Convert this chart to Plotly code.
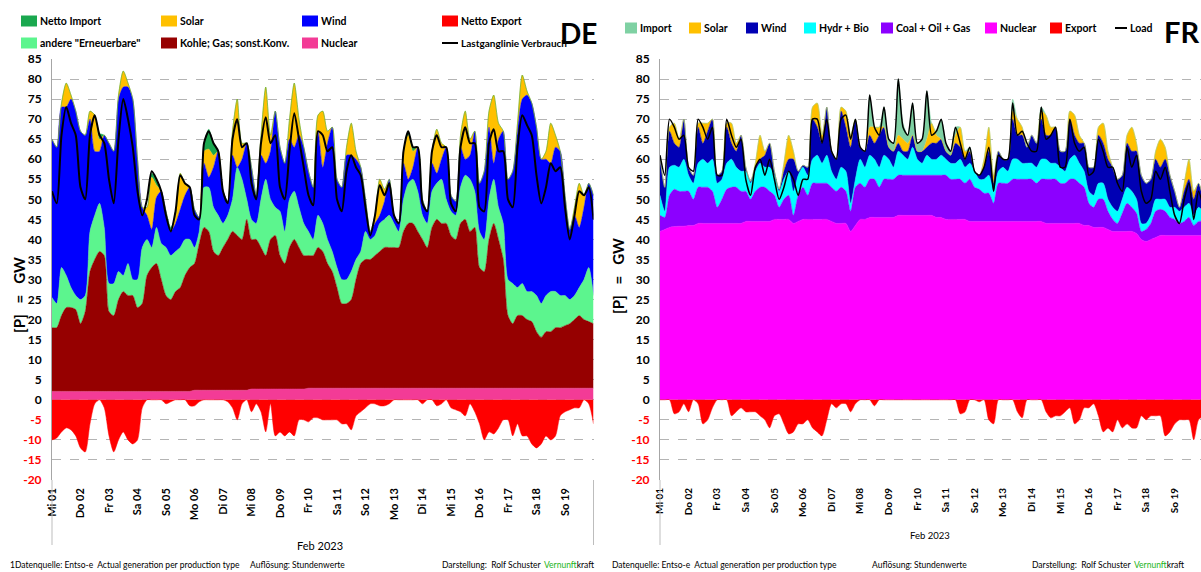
import plotly.graph_objects as go
import pandas as pd

FONT = "Lato, Liberation Sans, Arial, sans-serif"

# ---------------- axis categories ----------------
day_labels = ["Mi 01", "Do 02", "Fr 03", "Sa 04", "So 05", "Mo 06", "Di 07", "Mi 08", "Do 09", "Fr 10",
              "Sa 11", "So 12", "Mo 13", "Di 14", "Mi 15", "Do 16", "Fr 17", "Sa 18", "So 19"]
y_ticks = list(range(-20, 90, 5))
times = pd.date_range("2023-02-01 00:00", "2023-02-20 00:00", freq="4h")   # 4-hourly readings
days = pd.date_range("2023-02-01", periods=19, freq="D")

# ---------------- DE (GW), per day: 00h 04h 08h 12h 16h 20h ----------------
de_nuclear = [2.1] * 30 + [2.4] * 12 + [2.7] * 12 + [2.9] * 60 + [2.9]
de_kohle = [
    15.9, 15.9, 18.9, 20.9, 20.9, 20.4,
    16.9, 19.9, 29.9, 32.9, 34.9, 33.9,
    19.9, 18.9, 22.9, 24.9, 23.9, 23.9,
    20.9, 21.9, 28.9, 30.9, 31.9, 27.9,
    23.9, 22.9, 24.9, 25.9, 28.9, 30.9,
    31.6, 36.6, 40.6, 39.6, 34.6, 33.6,
    35.6, 37.6, 39.6, 38.6, 37.6, 42.6,
    37.3, 37.3, 35.3, 33.3, 37.3, 38.3,
    33.3, 31.3, 35.3, 37.3, 35.3, 33.3,
    33.1, 33.1, 35.1, 34.1, 31.1, 29.1,
    25.1, 21.1, 21.1, 22.1, 27.1, 31.1,
    32.1, 32.1, 33.1, 34.1, 35.1, 35.1,
    35.1, 35.1, 39.1, 41.1, 41.1, 39.1,
    37.1, 35.1, 40.1, 42.1, 41.1, 41.1,
    38.1, 37.1, 41.1, 42.1, 39.1, 40.1,
    30.1, 29.1, 37.1, 41.1, 37.1, 32.1,
    18.1, 16.1, 18.1, 18.1, 17.1, 16.6,
    14.1, 12.7, 14.1, 14.1, 15.1, 15.1,
    15.6, 16.1, 17.1, 18.1, 17.1, 16.6,
    16.1]
de_andere = [
    7.5, 6, 12, 8, 5, 3.5,
    6, 4, 10, 11, 12, 7,
    7, 8, 7, 4, 8, 4,
    7, 14, 9, 5, 9, 9,
    12, 11, 10, 10, 9, 7,
    4, 3, 10, 11, 11, 10,
    6, 6, 8, 17, 15, 5,
    5, 4, 12, 19, 10, 7,
    11, 8, 12, 12, 10, 8,
    6, 4, 8, 7, 6, 5,
    5, 6, 6, 7, 5, 3,
    7, 5, 5, 7, 7, 8,
    6, 4, 8, 10, 11, 10,
    6, 6, 9, 9, 11, 6,
    6, 6, 9, 11, 13, 9,
    9, 8, 10, 11, 8, 9,
    9, 10, 7, 8, 7, 7.5,
    9, 8.4, 9, 10, 9, 8,
    7.5, 6, 6, 7, 10, 13.5,
    7]
de_wind = [
    39.5, 39, 40, 42, 47, 46,
    42, 40, 28, 16, 13, 23,
    35, 33, 43, 47, 44, 45,
    30, 10, 6, 4.5, 7.5, 13,
    9, 6, 7, 9.5, 11, 13,
    9.5, 3.5, 6, 2.5, 10, 16,
    8, 3.5, 11, 0, 5, 14,
    13, 7, 11, 4, 12, 24,
    16, 17, 15, 11, 18, 19,
    15, 13, 21, 14, 24, 31,
    22, 23, 31, 29, 25, 21,
    8, 2, 3, 2, 4.5, 9,
    2, 2, 9, 1, 3, 11,
    4, 3, 7, 2.5, 5, 13,
    4, 3.5, 10, 4, 6, 15,
    12, 17, 18, 4, 17, 23,
    25, 28, 39, 46, 49, 47,
    42, 36, 34, 32, 36, 36,
    25, 17.5, 20, 15, 18, 21,
    25]
de_solar = [
    0, 0, 1, 6, 1, 0,
    0, 0, 2, 9, 3, 0,
    0, 0, 1, 4, 1, 0,
    0, 0, 2, 13, 3, 0,
    0, 0, 2, 9, 3, 0,
    0, 0, 3, 7, 3, 0,
    0, 0, 6, 17, 4, 0,
    0, 0, 5, 19, 4, 0,
    0, 0, 5, 16, 4, 0,
    0, 0, 4, 14, 3, 0,
    0, 0, 2, 8, 2, 0,
    0, 0, 2, 9, 3, 0,
    0, 0, 3, 11, 4, 0,
    0, 0, 3, 11, 4, 0,
    0, 0, 3, 12, 4, 0,
    0, 0, 4, 17, 4, 0,
    0, 0, 2, 6, 1, 0,
    0, 0, 2, 10, 3, 0,
    0, 0, 2, 11, 3, 0,
    0]
de_import = [
    0, 0, 0, 0, 0, 0,
    0, 0, 0, 0, 1.5, 0,
    0, 0, 0, 0, 0, 0,
    0, 0, 0, 1, 1.5, 0,
    0, 1, 0, 0, 0, 0,
    0, 0, 2, 5, 3, 0,
    0, 0, 0, 0, 0, 0,
    0, 0, 0, 0, 0, 0,
    0, 0, 0, 0, 0, 0,
    0, 0, 0, 0, 0, 0,
    0, 0, 0, 0, 0, 0,
    0, 0, 0, 0, 0, 0,
    0, 0, 0, 1, 1, 0,
    0, 0, 0, 0, 0, 0,
    0, 0, 0, 0, 0, 0,
    0, 0, 0, 0, 0, 0,
    0, 0, 0, 0, 0, 0,
    0, 0, 0, 0, 0, 0,
    0, 0, 0, 0, 0, 0,
    0]
de_export = [
    -10, -9.5, -8, -7, -7.5, -9,
    -12, -13, -6, -1, 0, -2,
    -9, -13, -10, -8, -10, -11,
    -10, -2, 0, 0, 0, 0,
    -1, -0.5, 0, 0, 0, -1.5,
    -1.5, -0.5, 0, 0, 0, 0,
    0, -0.5, -2, -5, -1, 0,
    -3, -1, -3, -8, -1, -9,
    -8, -9, -8, -9, -5, -5,
    -5.5, -4.5, -4.5, -5, -5, -5,
    -5, -6, -6, -7.5, -4, -3,
    -2, -1, -1, -1.5, -1.5, -1,
    0, 0, 0, 0, 0, 0,
    -1, 0, 0, -1.5, -1, 0,
    -2, -2.5, -3, -4, -1, -3,
    -6, -10, -8, -8.5, -7, -5,
    -5, -9, -6, -9, -9, -11,
    -12, -11, -9, -10, -9, -4,
    -3, -2.5, -2, -2, 0, -1,
    -6]
de_load = [
    52, 49, 66, 73, 69, 66,
    53, 50, 66, 71, 66, 64,
    55, 49, 65, 75, 70, 63,
    52, 46, 50, 57, 55, 52,
    46, 42, 47, 56, 54, 53,
    46, 45, 64, 67, 64, 62,
    52, 49, 65, 70, 63, 64,
    54, 50, 64, 70.5, 64, 66,
    53, 50, 62, 71.5, 65, 58,
    51, 48.5, 67, 66, 62, 63,
    50, 47, 57, 61, 58, 56,
    48, 41, 46, 53.5, 51, 54,
    46, 44, 62, 67, 63, 63,
    49, 47, 62, 66, 63, 63,
    49, 47, 63, 68, 64, 64,
    48, 47, 64, 67.5, 62, 62,
    50, 48, 63, 71, 68.5, 66,
    56, 49, 53, 59, 57, 58,
    48, 40, 46, 52, 51, 53,
    45]

# ---------------- FR (GW), per day: 00h 04h 08h 12h 16h 20h ----------------
fr_nuclear = [
    42, 42.5, 43, 43.2, 43.3, 43.3,
    43.5, 43.5, 44, 44, 44, 44,
    44, 44, 44, 44, 44, 44,
    44.5, 44.5, 44.5, 44.5, 44.5, 44.5,
    45, 45, 45, 45, 44, 44.5,
    45, 45, 45, 45, 45, 45,
    44.5, 44, 44, 44, 42, 43.5,
    45, 45, 45.5, 45.5, 45.5, 45.5,
    45.5, 45.5, 46, 46, 46, 46,
    46, 46, 46, 46, 45.5, 45.5,
    45, 45, 45, 45, 45, 44.5,
    44.5, 44.5, 44.5, 44.5, 44.5, 44.5,
    44.5, 44.5, 44.5, 44.5, 44.5, 44.5,
    44.5, 44.5, 44.5, 44, 44, 44,
    44, 44, 44, 44, 44, 43.5,
    43.5, 43, 43, 43, 42.5, 42,
    42, 42, 42, 42, 41.5, 40,
    39.5, 40, 40.5, 41, 41, 41,
    41, 41, 41, 41, 41, 41,
    41]
fr_coal = [
    4, 3, 8, 9.3, 8.7, 8.7,
    8.5, 6.5, 9, 9, 9, 8,
    4, 6, 8.5, 9, 9, 8,
    7.5, 5.5, 7.5, 8.5, 8.5, 7.5,
    6, 3, 5, 6, 2, 6.5,
    8, 6, 9, 9, 9, 9,
    8.5, 8, 9, 8, 5, 9.5,
    9, 8, 9.5, 9.5, 7.5, 9.5,
    9.5, 9.5, 10, 10, 10, 10,
    10, 10, 10, 10, 10.5, 10.5,
    11, 10, 10, 10, 9, 10.5,
    8.5, 8, 7, 7, 4.5, 9.5,
    9.5, 9.5, 10.5, 10.5, 10.5, 10.5,
    10.5, 9.5, 10.5, 11, 11, 11,
    10, 10, 11, 11, 10, 9.5,
    5.5, 5, 7, 7, 4.5, 3,
    2, 4.5, 7, 6, 5, 2,
    3, 4, 6.5, 6.5, 6, 4.5,
    4, 3, 3.5, 4.5, 2.5, 3.5,
    3.5]
fr_hydro = [
    5, 1.5, 7, 6, 6, 8,
    4, 4, 6, 7, 6, 8,
    6, 5, 6.5, 7, 5, 5,
    5, 4, 5, 6, 5, 6,
    5, 4, 5, 6, 6, 5,
    5, 5, 6, 7, 5, 7,
    4, 3, 5, 5, 2, 2,
    6, 5, 6, 5, 5, 6,
    5, 3, 6, 5, 4, 7,
    4, 3, 5, 4, 4, 5,
    4, 4, 4, 5, 4, 4,
    4, 2.5, 3.5, 4.5, 3, 3,
    4, 3, 5, 5, 4, 4,
    4, 4, 5, 5, 4, 4,
    4, 3, 5, 6, 5, 4,
    3, 3, 4, 4, 3, 3,
    3, 3.5, 4, 4, 3.5, 2,
    1.5, 2, 3, 2.5, 3, 2.5,
    3, 3, 3.5, 3.5, 2.5, 3.5,
    2.5]
fr_wind = [
    9.5, 6, 9, 5.5, 5, 10,
    2, 2, 9, 4, 8, 10,
    2, 2, 9, 4, 4, 9,
    1, 0.5, 1, 1, 3, 6,
    1, 0.5, 2, 3, 8, 1,
    0.5, 2, 10, 7, 5, 12,
    5, 5, 14, 11, 14, 15,
    3, 4, 5, 4, 8, 7,
    3, 4, 2, 1, 2, 3,
    2, 3, 2, 4, 4, 4,
    2, 2, 5, 3, 2, 3,
    0, 1, 3, 6, 2, 5,
    2, 3, 10, 6, 7, 4,
    7, 6, 10, 6, 7, 9,
    4, 5, 10, 5, 5, 7,
    6, 7, 12, 10, 10, 10,
    8, 6, 11, 10, 12, 12,
    10, 9, 10, 8, 10, 8,
    4, 1, 4, 6, 4, 6,
    3]
fr_solar = [
    0, 0, 1, 5, 2, 0,
    0, 0, 1, 5, 2, 0,
    0, 0, 1, 5, 2, 0,
    0, 0, 1, 6, 1, 0,
    0, 0, 2, 6, 2, 0,
    0, 0, 3, 6, 2, 0,
    0, 0, 1, 4, 3, 0,
    0, 0, 2, 4, 2, 0,
    0, 0, 2, 3, 2, 0,
    0, 0, 2, 5, 2, 0,
    0, 0, 2, 5, 2, 0,
    0, 0, 2, 6, 2, 0,
    0, 0, 2, 4, 2, 0,
    0, 0, 2, 5, 2, 0,
    0, 0, 2, 5, 2, 0,
    0, 0, 2, 5, 2, 0,
    0, 0, 2, 6, 2, 0,
    0, 0, 2, 7, 3, 0,
    0, 0, 2, 5, 2, 0,
    0]
fr_import = [
    0, 0, 0, 0, 0, 0,
    0, 0, 0, 0, 0, 0,
    0, 0, 0, 0, 0, 0,
    0, 0, 0, 0, 0, 0,
    0, 0, 0, 0, 0, 0,
    0, 0, 0, 0, 0, 0,
    0, 0, 0, 0, 0, 0,
    0, 0, 8, 0, 0, 5,
    2, 2, 14, 4, 2, 8,
    2, 3, 12, 0, 1, 5,
    2, 1, 2, 0, 0, 1,
    0, 0, 0, 0, 0, 0,
    0, 0, 3, 0, 0, 0,
    0, 0, 1, 0, 0, 0,
    0, 0, 0, 0, 0, 0,
    0, 0, 0, 0, 0, 0,
    0, 0, 0, 0, 0, 0,
    0, 0, 0, 0, 0, 0,
    0, 0, 0, 0, 0, 0,
    0]
fr_export = [
    0, 0, 0, -3.5, -3, -1,
    -3, 0, -1, -6, -5, -2,
    0, 0, 0, -4, -3, -2,
    -3, -3, -3, -4, -5, -7,
    -4, -3.5, -6, -8.5, -8, -6,
    -6, -5, -7, -8, -9, -5,
    -1, -2, -1, -1, -3, -1,
    0, 0, 0, -1.5, 0, 0,
    0, 0, 0, 0, 0, 0,
    0, 0, 0, 0, 0, 0,
    0, 0, 0, -3.5, -3, 0,
    0, -0.5, 0, -5, -6, 0,
    0, 0, 0, -3, -4.5, 0,
    0, 0, 0, -3, -4.5, -4,
    -4, -3, -2, -6, -5, -2,
    -2, -1, -4, -8, -7, -8,
    -5, -7, -6, -7, -7, -4,
    -5, -4, -4, -4, -9, -8,
    -6, -5, -5, -5, -10, -5,
    -4]
fr_load = [
    61, 56, 70, 68, 65, 66,
    58, 57, 70, 68, 65, 68,
    56, 56, 70, 66, 63, 65,
    55, 51, 58, 60, 56, 60,
    55, 50, 53, 57, 55, 51,
    55, 55, 70, 70, 64, 70,
    62, 60, 70, 71, 65, 70,
    63, 62, 76, 68, 66, 73,
    65, 64, 80, 68, 66, 74,
    64, 65, 77, 66, 67, 70,
    64, 62, 68, 64, 60, 63,
    57, 56, 58, 63, 52, 61,
    60, 60, 74, 66, 67, 64,
    62, 62, 73, 65, 66, 68,
    58, 58, 70, 64, 62, 63,
    56, 57, 65, 62, 58, 58,
    54, 52, 63, 58, 61, 52,
    49, 50, 57, 55, 58, 52,
    46, 44, 50, 54, 45, 52,
    48]

# ---------------- colours ----------------
DE_COL = {"Netto Import": "#1aa84f", "Solar": "#ffc000", "Wind": "#0000ff", "Netto Export": "#ff0000",
          'andere "Erneuerbare"': "#5cf58e", "Kohle; Gas; sonst.Konv.": "#960000", "Nuclear": "#f33b96"}
FR_COL = {"Import": "#7fd1a3", "Solar": "#ffc000", "Wind": "#0000b4", "Hydr + Bio": "#00ffff",
          "Coal + Oil + Gas": "#8c00ff", "Nuclear": "#ff00ff", "Export": "#ff0000"}

# ---------------- page geometry (pixels) ----------------
W_PX, H_PX = 1201, 572
ML, MT, MB, MR = 52, 59, 92, 0
PW, PH = W_PX - ML - MR, H_PX - MT - MB


def px(x):
    return (x - ML) / PW


def py(y):
    return 1 - (y - MT) / PH


fig = go.Figure()


def area(x, y, name, color, group, xa, ya):
    return go.Scatter(x=x, y=y, name=name, mode="lines", stackgroup=group,
                      line=dict(width=0.5, color=color, shape="spline", smoothing=0.7),
                      fillcolor=color, xaxis=xa, yaxis=ya, showlegend=False, hoverinfo="skip")


# DE stack
for name, vals in [("Nuclear", de_nuclear), ("Kohle; Gas; sonst.Konv.", de_kohle),
                   ('andere "Erneuerbare"', de_andere), ("Wind", de_wind),
                   ("Solar", de_solar), ("Netto Import", de_import)]:
    fig.add_trace(area(times, vals, name, DE_COL[name], "de", "x", "y"))
fig.add_trace(go.Scatter(x=times, y=de_export, name="Netto Export", mode="lines", fill="tozeroy",
                         fillcolor=DE_COL["Netto Export"],
                         line=dict(width=0.5, color=DE_COL["Netto Export"], shape="spline", smoothing=0.7),
                         xaxis="x", yaxis="y", showlegend=False, hoverinfo="skip"))
fig.add_trace(go.Scatter(x=times, y=de_load, name="Lastganglinie Verbrauch", mode="lines",
                         line=dict(width=2, color="black", shape="spline", smoothing=0.7),
                         xaxis="x", yaxis="y", showlegend=False, hoverinfo="skip"))

# FR stack
for name, vals in [("Nuclear", fr_nuclear), ("Coal + Oil + Gas", fr_coal), ("Hydr + Bio", fr_hydro),
                   ("Wind", fr_wind), ("Solar", fr_solar), ("Import", fr_import)]:
    fig.add_trace(area(times, vals, name, FR_COL[name], "fr", "x2", "y2"))
fig.add_trace(go.Scatter(x=times, y=fr_export, name="Export", mode="lines", fill="tozeroy",
                         fillcolor=FR_COL["Export"],
                         line=dict(width=0.5, color=FR_COL["Export"], shape="spline", smoothing=0.7),
                         xaxis="x2", yaxis="y2", showlegend=False, hoverinfo="skip"))
fig.add_trace(go.Scatter(x=times, y=fr_load, name="Load", mode="lines",
                         line=dict(width=1.5, color="black", shape="spline", smoothing=0.7),
                         xaxis="x2", yaxis="y2", showlegend=False, hoverinfo="skip"))

ytext = [f"<span style='color:#ff0000'>{v}</span>" if v < 0 else str(v) for v in y_ticks]
yax = dict(range=[-20, 85], tickvals=y_ticks, ticktext=ytext, showgrid=True, gridcolor="#b4b4b4",
           griddash="dash", gridwidth=1, zeroline=False, showline=True, linecolor="#a6a6a6", linewidth=1,
           tickfont=dict(family=FONT, size=12, color="black", weight="bold"), ticklabelstandoff=7,
           domain=[0, 1], fixedrange=True)
xax = dict(type="date", tickvals=list(days), ticktext=day_labels, tickangle=-90, showgrid=False,
           zeroline=False, showline=False, ticks="", ticklabelstandoff=5, fixedrange=True)

fig.update_layout(
    width=W_PX, height=H_PX, margin=dict(l=ML, r=MR, t=MT, b=MB),
    paper_bgcolor="white", plot_bgcolor="white", showlegend=False,
    xaxis=dict(xax, domain=[0, px(593.5)], range=["2023-02-01 00:00", "2023-02-20 00:00"], anchor="y",
               tickfont=dict(family=FONT, size=11, color="black", weight="bold")),
    yaxis=dict(yax, anchor="x"),
    xaxis2=dict(xax, domain=[px(660), 1], range=["2023-02-01 00:00", "2023-02-19 22:05"], anchor="y2",
                tickfont=dict(family=FONT, size=10, color="black", weight="bold")),
    yaxis2=dict(yax, anchor="x2"),
)

shapes = []
annos = []


def legend_item(x, y, label, color, line=False, w=16, h=11, size=10.5):
    if line:
        shapes.append(dict(type="line", xref="paper", yref="paper", x0=px(x), x1=px(x + w),
                           y0=py(y), y1=py(y), line=dict(color="black", width=2)))
    else:
        shapes.append(dict(type="rect", xref="paper", yref="paper", x0=px(x), x1=px(x + w),
                           y0=py(y - h / 2), y1=py(y + h / 2), fillcolor=color, line=dict(width=0)))
    annos.append(dict(xref="paper", yref="paper", x=px(x + w + 1), y=py(y), text=label, showarrow=False,
                      xanchor="left", yanchor="middle",
                      font=dict(family=FONT, size=size, color="black", weight="bold")))


# DE legend (2 rows x 4 columns)
legend_item(21, 21, "Netto Import", DE_COL["Netto Import"])
legend_item(161, 21, "Solar", DE_COL["Solar"])
legend_item(302, 21, "Wind", DE_COL["Wind"])
legend_item(442, 21, "Netto Export", DE_COL["Netto Export"])
legend_item(21, 43, 'andere "Erneuerbare"', DE_COL['andere "Erneuerbare"'])
legend_item(161, 43, "Kohle; Gas; sonst.Konv.", DE_COL["Kohle; Gas; sonst.Konv."])
legend_item(302, 43, "Nuclear", DE_COL["Nuclear"])
legend_item(442, 43, "Lastganglinie Verbrauch", "black", line=True, size=10)

# FR legend (1 row)
fr_leg = [(625, "Import"), (689, "Solar"), (746, "Wind"), (804, "Hydr + Bio"),
          (881, "Coal + Oil + Gas"), (985, "Nuclear"), (1050, "Export")]
for x0, lab in fr_leg:
    legend_item(x0, 28, lab, FR_COL[lab], w=12)
legend_item(1115, 28, "Load", "black", line=True, w=12)

# country labels
annos.append(dict(xref="paper", yref="paper", x=px(599), y=py(33), text="DE", showarrow=False,
                  xanchor="right", yanchor="middle", font=dict(family=FONT, size=28, color="black", weight="bold")))
annos.append(dict(xref="paper", yref="paper", x=px(1201), y=py(31), text="FR", showarrow=False,
                  xanchor="right", yanchor="middle", font=dict(family=FONT, size=29, color="black", weight="bold")))

# axis titles
NB = "\u00a0"
ytitle = f"[P]{NB}{NB}{NB}={NB}{NB}{NB}GW"
annos.append(dict(xref="paper", yref="paper", x=px(19), y=py(295), text=ytitle, textangle=-90,
                  showarrow=False, xanchor="center", yanchor="middle",
                  font=dict(family=FONT, size=15, color="black", weight="bold")))
annos.append(dict(xref="paper", yref="paper", x=px(618), y=py(276), text=ytitle, textangle=-90,
                  showarrow=False, xanchor="center", yanchor="middle",
                  font=dict(family=FONT, size=15, color="black", weight="bold")))
annos.append(dict(xref="paper", yref="paper", x=px(320), y=py(545), text="Feb 2023", showarrow=False,
                  xanchor="center", yanchor="middle", font=dict(family=FONT, size=11, color="black")))
annos.append(dict(xref="paper", yref="paper", x=px(930), y=py(535), text="Feb 2023", showarrow=False,
                  xanchor="center", yanchor="middle", font=dict(family=FONT, size=9.5, color="black")))

# footer
FOOT = dict(family=FONT, size=8.5, color="black")
footer = [(8, "1Datenquelle: Entso-e  Actual generation per production type"),
          (248, "Auflösung: Stundenwerte"),
          (440, "Darstellung:  Rolf Schuster"),
          (610, "Datenquelle: Entso-e  Actual generation per production type"),
          (870, "Auflösung: Stundenwerte"),
          (1030, "Darstellung:  Rolf Schuster")]
for x0, t in footer:
    annos.append(dict(xref="paper", yref="paper", x=px(x0), y=py(565), text=t.replace("  ", NB + NB),
                      showarrow=False, xanchor="left", yanchor="middle", font=FOOT))
for x0 in (542, 1132):
    annos.append(dict(xref="paper", yref="paper", x=px(x0), y=py(565),
                      text="<span style='color:#22b422'>Vernunft</span>kraft",
                      showarrow=False, xanchor="left", yanchor="middle", font=FOOT))

# axis line extensions below the plots
for x0 in (52, 593.5, 660):
    shapes.append(dict(type="line", xref="paper", yref="paper", x0=px(x0), x1=px(x0), y0=py(480), y1=py(545),
                       line=dict(color="#bdbdbd", width=1)))

fig.update_layout(shapes=shapes, annotations=annos)
fig.write_html("out.html", config={"displayModeBar": False},
               post_script="document.body.style.margin='0px';")
